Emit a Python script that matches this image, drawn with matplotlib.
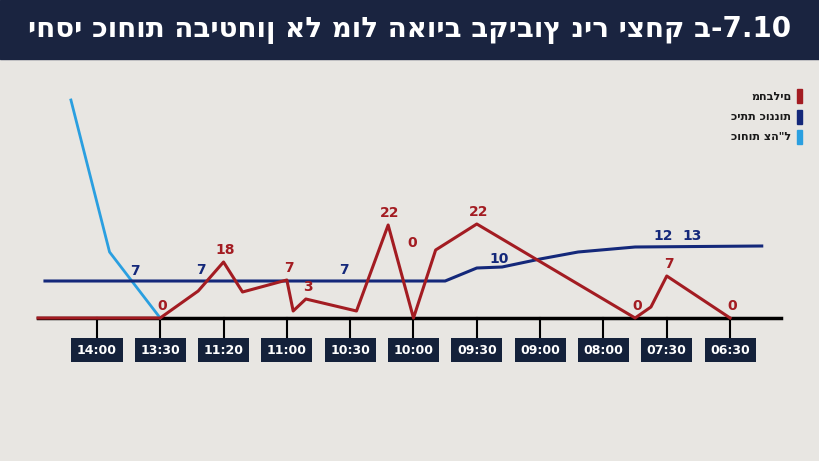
import matplotlib.pyplot as plt
from matplotlib.patches import Rectangle

# tick labels along the timeline (index 0..10, left to right)
tick_labels = ['14:00', '13:30', '11:20', '11:00', '10:30', '10:00', '09:30', '09:00', '08:00', '07:30', '06:30']

# red - terrorists (x in tick-index units, y in drawn level)
red_x = [-0.93, 1.0, 1.6, 2.0, 2.3, 3.0, 3.1, 3.3, 4.1, 4.6, 5.0, 5.35, 6.0, 8.5, 8.75, 9.0, 10.0]
red_y = [0, 0, 2.7, 5.6, 2.6, 3.8, 0.7, 1.9, 0.7, 9.3, 0, 6.8, 9.4, 0, 1.1, 4.2, 0]
red_lbl_x = [1.0, 2.0, 3.0, 3.3, 4.6, 4.95, 6.0, 8.5, 9.0, 10.0]
red_lbl_y = [0, 5.6, 3.8, 1.9, 9.3, 6.3, 9.4, 0, 4.2, 0]
red_lbl = ['0', '18', '7', '3', '22', '0', '22', '0', '7', '0']

# dark blue - standby squad
blue_x = [-0.82, 5.5, 6.0, 6.4, 7.0, 7.6, 8.5, 10.5]
blue_y = [3.7, 3.7, 5.0, 5.1, 5.9, 6.6, 7.1, 7.2]
blue_lbl_x = [0.6, 1.65, 3.9, 6.35, 8.95, 9.4]
blue_lbl = ['7', '7', '7', '10', '12', '13']
blue_lbl_y = [4.7, 4.8, 4.8, 5.9, 8.2, 8.2]

# light blue - IDF forces
idf_x = [-0.41, 0.2, 1.0]
idf_y = [21.8, 6.6, 0]

RED = '#a31c22'
NAVY = '#14287a'
LIGHT = '#2a9fe0'
BOX = '#14213a'

fig = plt.figure(figsize=(8.2, 4.61), dpi=100)
fig.patch.set_facecolor('#e8e6e2')
ax = fig.add_axes([0, 0, 1, 1])
ax.set_xlim(-1.53, 11.42)
ax.set_ylim(-14.3, 31.8)
ax.axis('off')

# title band
fig.patches.append(Rectangle((0, 0.872), 1, 0.128, transform=fig.transFigure, color='#1a2440', zorder=0))
fig.text(0.5, 0.936, 'יחסי כוחות הביטחון אל מול האויב בקיבוץ ניר יצחק ב-7.10', color='white',
         fontsize=20, fontweight='bold', ha='center', va='center')

# baseline and ticks
ax.plot([-0.93, 10.8], [0, 0], color='black', lw=2.5, zorder=2)
for i, lab in enumerate(tick_labels):
    ax.plot([i, i], [0, -2.3], color='black', lw=1.5, zorder=2)
    ax.text(i, -3.2, lab, color='white', fontsize=9, fontweight='bold', ha='center', va='center',
            bbox=dict(boxstyle='square,pad=0.45', fc=BOX, ec='none'))

ax.plot(idf_x, idf_y, color=LIGHT, lw=2, zorder=3)
ax.plot(blue_x, blue_y, color=NAVY, lw=2.2, zorder=3)
ax.plot(red_x, red_y, color=RED, lw=2.2, zorder=4)

for x, y, t in zip(red_lbl_x, red_lbl_y, red_lbl):
    ax.text(x + 0.03, y + 1.2, t, color=RED, fontsize=10, fontweight='bold', ha='center', va='center')
for x, y, t in zip(blue_lbl_x, blue_lbl_y, blue_lbl):
    ax.text(x, y, t, color=NAVY, fontsize=10, fontweight='bold', ha='center', va='center')

# legend
legend_names = ['מחבלים', 'כיתת כוננות', 'כוחות צה"ל']
legend_cols = [RED, NAVY, LIGHT]
for k, (name, col) in enumerate(zip(legend_names, legend_cols)):
    yy = 0.79 - k * 0.044
    fig.patches.append(Rectangle((0.972, yy - 0.014), 0.006, 0.03, transform=fig.transFigure, color=col))
    fig.text(0.965, yy, name, color='#1a1a1a', fontsize=8, fontweight='bold', ha='right', va='center')

fig.savefig('out.png', dpi=100, facecolor=fig.get_facecolor())
